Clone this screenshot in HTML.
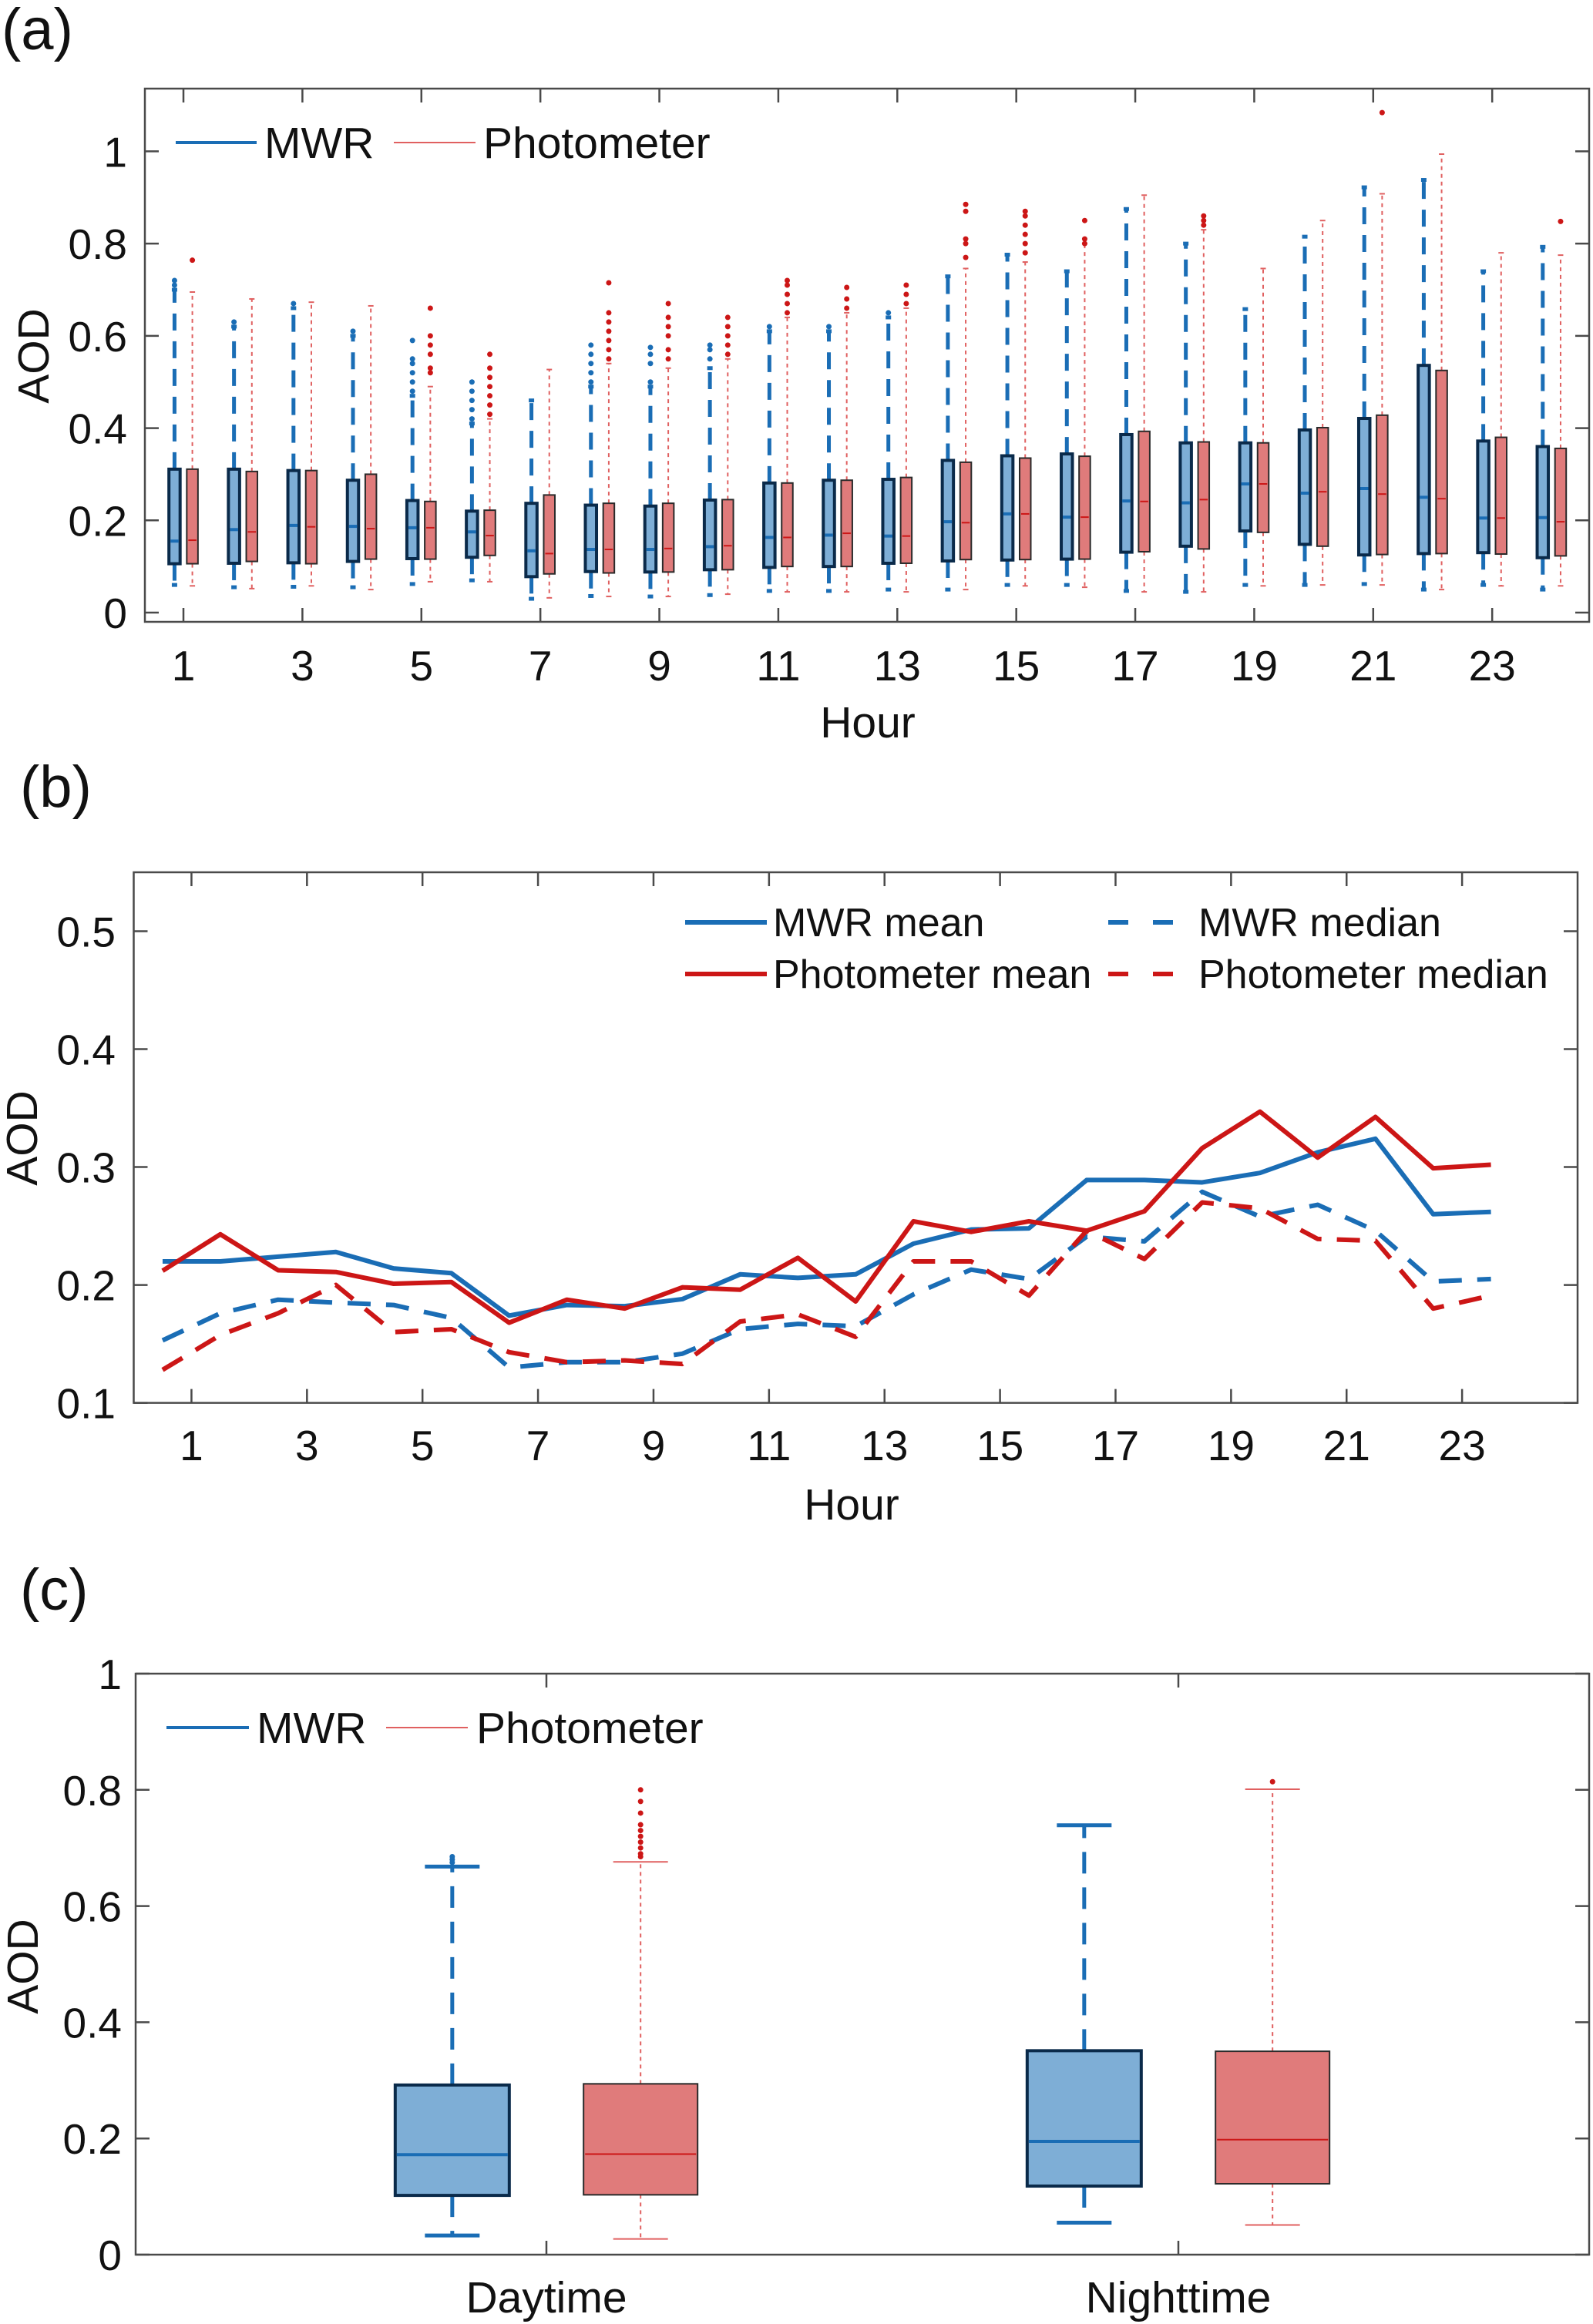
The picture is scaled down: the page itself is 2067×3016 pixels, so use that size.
<!DOCTYPE html>
<html><head><meta charset="utf-8"><style>
html,body{margin:0;padding:0;background:#fff}
svg{display:block}
text{font-family:"Liberation Sans",Arial,sans-serif;fill:#111}
</style></head><body>
<svg id="fig" width="2067" height="3016" viewBox="0 0 2067 3016" xmlns="http://www.w3.org/2000/svg"></svg>
<script>
// ---------- Panel (a) data ----------
const hoursA = [1,2,3,4,5,6,7,8,9,10,11,12,13,14,15,16,17,18,19,20,21,22,23,24];
const mwrQ1 = [.106,.107,.108,.111,.117,.12,.078,.089,.088,.093,.098,.1,.107,.112,.114,.116,.131,.144,.177,.148,.125,.128,.13,.119];
const mwrMed = [.155,.18,.189,.187,.184,.175,.134,.137,.137,.143,.163,.168,.166,.197,.214,.207,.242,.238,.279,.259,.269,.25,.205,.206];
const mwrQ3 = [.311,.311,.308,.287,.243,.22,.237,.233,.231,.244,.281,.287,.289,.33,.34,.344,.386,.368,.368,.396,.421,.536,.372,.36];
const mwrLo = [.06,.055,.056,.055,.062,.07,.03,.036,.035,.038,.047,.047,.05,.05,.06,.06,.047,.045,.06,.06,.062,.05,.06,.05];
const mwrHi = [.70,.62,.66,.60,.47,.41,.46,.49,.49,.53,.61,.61,.64,.729,.776,.74,.875,.80,.658,.815,.922,.938,.74,.793];
const mwrOut = [[.71,.72],[.63],[.67],[.61],[.48,.5,.52,.54,.55,.59],[.42,.44,.46,.48,.5],[],[.5,.52,.54,.56,.58],[.5,.54,.56,.575],[.55,.57,.58],[.62],[.62],[.65],[],[],[],[],[],[],[],[],[],[],[]];
const phoQ1 = [.106,.111,.106,.116,.116,.124,.084,.086,.088,.093,.1,.1,.107,.115,.115,.116,.132,.138,.174,.144,.126,.128,.127,.123];
const phoMed = [.157,.175,.186,.182,.184,.167,.128,.137,.139,.145,.163,.172,.166,.195,.214,.207,.241,.245,.279,.262,.257,.247,.205,.197];
const phoQ3 = [.311,.306,.308,.300,.241,.222,.255,.237,.237,.245,.281,.287,.293,.326,.335,.339,.393,.37,.368,.401,.428,.525,.38,.356];
const phoLo = [.058,.052,.058,.05,.067,.067,.032,.035,.035,.04,.045,.045,.045,.05,.058,.055,.045,.045,.058,.06,.06,.05,.058,.058];
const phoHi = [.695,.68,.673,.665,.49,.42,.527,.54,.53,.55,.64,.65,.66,.746,.76,.80,.905,.83,.746,.85,.908,.994,.78,.775];
const phoOut = [[.764],[],[],[],[.52,.53,.56,.58,.6,.66],[.43,.45,.47,.49,.51,.53,.56],[],[.55,.57,.59,.61,.63,.65,.715],[.55,.57,.6,.62,.64,.67],[.56,.58,.6,.62,.64],[.65,.67,.69,.71,.72],[.66,.68,.705],[.67,.69,.71],[.77,.8,.81,.87,.885],[.78,.8,.82,.84,.86,.87],[.8,.81,.85],[],[.84,.85,.86],[],[],[1.084],[],[],[.848]];
const xTicksA = [1,3,5,7,9,11,13,15,17,19,21,23];
const yTicksA = [0,0.2,0.4,0.6,0.8,1];
const yTickLabelsA = ["0","0.2","0.4","0.6","0.8","1"];

// ---------- Panel (b) data ----------
const hoursB = [0.5,1.5,2.5,3.5,4.5,5.5,6.5,7.5,8.5,9.5,10.5,11.5,12.5,13.5,14.5,15.5,16.5,17.5,18.5,19.5,20.5,21.5,22.5,23.5];
const mwrMean = [.220,.220,.224,.228,.214,.210,.174,.183,.182,.188,.209,.206,.209,.235,.247,.248,.289,.289,.287,.295,.3125,.324,.260,.262];
const phoMean = [.212,.243,.2125,.211,.201,.2025,.168,.1875,.180,.198,.196,.223,.186,.254,.245,.254,.246,.2625,.316,.347,.308,.3425,.299,.302];
const mwrMedian = [.153,.176,.1875,.185,.183,.172,.130,.1345,.1345,.1417,.1625,.167,.165,.192,.213,.205,.241,.237,.279,.258,.268,.246,.203,.205];
const phoMedian = [.128,.1575,.176,.200,.160,.1625,.143,.1345,.136,.133,.169,.175,.156,.220,.220,.191,.246,.222,.270,.265,.239,.2375,.180,.191];
const xTicksB = [1,3,5,7,9,11,13,15,17,19,21,23];
const yTicksB = [0.1,0.2,0.3,0.4,0.5];
const yTickLabelsB = ["0.1","0.2","0.3","0.4","0.5"];

// ---------- Panel (c) data ----------
const catsC = ["Daytime","Nighttime"];
const cMwrQ1 = [.102,.118], cMwrMed = [.172,.195], cMwrQ3 = [.292,.351], cMwrLo = [.033,.055], cMwrHi = [.668,.739];
const cPhoQ1 = [.103,.122], cPhoMed = [.173,.198], cPhoQ3 = [.294,.350], cPhoLo = [.027,.051], cPhoHi = [.676,.801];
const cMwrOut = [[.675,.68,.685],[]];
const cPhoOut = [[.685,.69,.70,.71,.72,.73,.74,.76,.78,.80],[.814]];
const yTicksC = [0,0.2,0.4,0.6,0.8,1];
const yTickLabelsC = ["0","0.2","0.4","0.6","0.8","1"];

const NS = "http://www.w3.org/2000/svg";
const svg = document.getElementById("fig");
const BLUE = "#1a6db5", RED = "#cc1616", LRED = "#e06060";
const BFILL = "#7eaed6", RFILL = "#e07b7b", AX = "#4a4a4a";
function mk(tag, attrs, parent) {
  const e = document.createElementNS(NS, tag);
  for (const k in attrs) e.setAttribute(k, attrs[k]);
  (parent || svg).appendChild(e);
  return e;
}
function lin(d0, d1, r0, r1) { return v => r0 + (v - d0) * (r1 - r0) / (d1 - d0); }
function txt(str, x, y, size, anchor, parent, name) {
  const t = mk("text", {x: x, y: y, "font-size": size, "text-anchor": anchor}, parent);
  t.textContent = str;
  
  
  return t;
}
function axesFrame(g, L, T, R, B, name) {
  const r = mk("rect", {x: L, y: T, width: R - L, height: B - T, fill: "none", stroke: AX, "stroke-width": 2.5}, g);
  
  
}
function tick(g, x1, y1, x2, y2) { mk("line", {x1: x1, y1: y1, x2: x2, y2: y2, stroke: AX, "stroke-width": 2.5}, g); }

function boxGlyph(g, cx, w, y, q1, med, q3, lo, hi, outs, isM, capW, name, dash) {
  const bg = mk("g", {}, g);
  
  
  const col = isM ? BLUE : LRED;
  const sw = isM ? 5 : 2;
  mk("line", {x1: cx, y1: y(q3), x2: cx, y2: y(hi), stroke: col, "stroke-width": sw, "stroke-dasharray": dash}, bg);
  mk("line", {x1: cx, y1: y(q1), x2: cx, y2: y(lo), stroke: col, "stroke-width": sw, "stroke-dasharray": dash}, bg);
  mk("line", {x1: cx - capW / 2, y1: y(hi), x2: cx + capW / 2, y2: y(hi), stroke: col, "stroke-width": isM ? 5 : 2}, bg);
  mk("line", {x1: cx - capW / 2, y1: y(lo), x2: cx + capW / 2, y2: y(lo), stroke: col, "stroke-width": isM ? 5 : 2}, bg);
  mk("rect", {x: cx - w / 2, y: y(q3), width: w, height: y(q1) - y(q3), fill: isM ? BFILL : RFILL,
    stroke: isM ? "#0a2a4a" : "#2a2a2a", "stroke-width": isM ? 4 : 2}, bg);
  mk("line", {x1: cx - w / 2 + 2, y1: y(med), x2: cx + w / 2 - 2, y2: y(med), stroke: isM ? BLUE : RED, "stroke-width": isM ? 4 : 2}, bg);
  outs.forEach(o => mk("circle", {cx: cx, cy: y(o), r: 3.5, fill: isM ? BLUE : RED}, bg));
}

// ================= Panel (a) =================
(function () {
  const g = mk("g", {});  
  const L = 188, R = 2062, T = 115, B = 807;
  const x = lin(0.352, 24.63, L, R), y = lin(-0.02, 1.136, B, T);
  txt("(a)", 2, 64, 76, "start", g, "panel-a-label");
  axesFrame(g, L, T, R, B, "panel-a-axes");
  xTicksA.forEach(h => { tick(g, x(h), B, x(h), B - 18); tick(g, x(h), T, x(h), T + 18);
    txt(String(h), x(h), 883, 55, "middle", g, "x-tick-label-a"); });
  yTicksA.forEach((v, i) => { tick(g, L, y(v), L + 18, y(v)); tick(g, R, y(v), R - 18, y(v));
    txt(yTickLabelsA[i], 165, y(v) + 20, 55, "end", g, "y-tick-label-a"); });
  hoursA.forEach((h, i) => {
    boxGlyph(g, x(h - 0.15), 14.5, y, mwrQ1[i], mwrMed[i], mwrQ3[i], mwrLo[i], mwrHi[i], mwrOut[i], true, 7, "mwr-box-hour-" + h, "22 14");
    boxGlyph(g, x(h + 0.15), 14.5, y, phoQ1[i], phoMed[i], phoQ3[i], phoLo[i], phoHi[i], phoOut[i], false, 7, "photometer-box-hour-" + h, "5 5");
  });
  txt("Hour", 1126, 957, 57, "middle", g, "x-axis-title-a");
  const t = txt("AOD", 0, 0, 57, "middle", g, "y-axis-title-a");
  t.setAttribute("transform", "translate(63,462) rotate(-90)");
  const lg = mk("g", {}, g);  
  mk("line", {x1: 228, y1: 185, x2: 333, y2: 185, stroke: BLUE, "stroke-width": 4}, lg);
  txt("MWR", 343, 205, 57, "start", lg, "legend-entry-mwr");
  mk("line", {x1: 511, y1: 185, x2: 617, y2: 185, stroke: LRED, "stroke-width": 2}, lg);
  txt("Photometer", 627, 205, 57, "start", lg, "legend-entry-photometer");
})();

// ================= Panel (b) =================
(function () {
  const g = mk("g", {});  
  const L = 173.5, R = 2047, T = 1132, B = 1820.6;
  const x = lin(0, 25, L, R), y = lin(0.1, 0.55, B, T);
  txt("(b)", 26, 1047, 76, "start", g, "panel-b-label");
  axesFrame(g, L, T, R, B, "panel-b-axes");
  xTicksB.forEach(h => { tick(g, x(h), B, x(h), B - 18); tick(g, x(h), T, x(h), T + 18);
    txt(String(h), x(h), 1895, 55, "middle", g, "x-tick-label-b"); });
  yTicksB.forEach((v, i) => { tick(g, L, y(v), L + 18, y(v)); tick(g, R, y(v), R - 18, y(v));
    txt(yTickLabelsB[i], 150, y(v) + 20, 55, "end", g, "y-tick-label-b"); });
  function series(vals, col, dash, name) {
    const p = mk("polyline", {points: hoursB.map((h, i) => x(h) + "," + y(vals[i])).join(" "),
      fill: "none", stroke: col, "stroke-width": 6, "stroke-dasharray": dash, "stroke-linejoin": "round"}, g);
    
    
  }
  series(mwrMedian, BLUE, "30 20", "mwr-median-line");
  series(phoMedian, RED, "30 20", "photometer-median-line");
  series(mwrMean, BLUE, "none", "mwr-mean-line");
  series(phoMean, RED, "none", "photometer-mean-line");
  txt("Hour", 1105, 1972, 57, "middle", g, "x-axis-title-b");
  const t = txt("AOD", 0, 0, 57, "middle", g, "y-axis-title-b");
  t.setAttribute("transform", "translate(48,1477) rotate(-90)");
  const lg = mk("g", {}, g);  
  mk("line", {x1: 889, y1: 1197, x2: 995, y2: 1197, stroke: BLUE, "stroke-width": 6}, lg);
  txt("MWR mean", 1003, 1215, 52, "start", lg, "legend-entry-mwr-mean");
  mk("line", {x1: 889, y1: 1264, x2: 995, y2: 1264, stroke: RED, "stroke-width": 6}, lg);
  txt("Photometer mean", 1003, 1282, 52, "start", lg, "legend-entry-photometer-mean");
  mk("line", {x1: 1438, y1: 1197, x2: 1522, y2: 1197, stroke: BLUE, "stroke-width": 6, "stroke-dasharray": "26 32"}, lg);
  txt("MWR median", 1555, 1215, 52, "start", lg, "legend-entry-mwr-median");
  mk("line", {x1: 1438, y1: 1264, x2: 1522, y2: 1264, stroke: RED, "stroke-width": 6, "stroke-dasharray": "26 32"}, lg);
  txt("Photometer median", 1555, 1282, 52, "start", lg, "legend-entry-photometer-median");
})();

// ================= Panel (c) =================
(function () {
  const g = mk("g", {});  
  const L = 176, R = 2062, T = 2172, B = 2926;
  const x = lin(0.35, 2.65, L, R), y = lin(0, 1, B, T);
  txt("(c)", 26, 2089, 76, "start", g, "panel-c-label");
  axesFrame(g, L, T, R, B, "panel-c-axes");
  catsC.forEach((c, i) => { tick(g, x(i + 1), B, x(i + 1), B - 18); tick(g, x(i + 1), T, x(i + 1), T + 18);
    txt(c, x(i + 1), 3001, 57, "middle", g, "x-category-label"); });
  yTicksC.forEach((v, i) => { tick(g, L, y(v), L + 18, y(v)); tick(g, R, y(v), R - 18, y(v));
    txt(yTickLabelsC[i], 158, y(v) + 20, 55, "end", g, "y-tick-label-c"); });
  catsC.forEach((c, i) => {
    boxGlyph(g, x(i + 1 - 0.149), 148, y, cMwrQ1[i], cMwrMed[i], cMwrQ3[i], cMwrLo[i], cMwrHi[i], cMwrOut[i], true, 71, "mwr-box-" + c.toLowerCase(), "28 18");
    boxGlyph(g, x(i + 1 + 0.149), 148, y, cPhoQ1[i], cPhoMed[i], cPhoQ3[i], cPhoLo[i], cPhoHi[i], cPhoOut[i], false, 71, "photometer-box-" + c.toLowerCase(), "5 5");
  });
  const t = txt("AOD", 0, 0, 57, "middle", g, "y-axis-title-c");
  t.setAttribute("transform", "translate(49,2552) rotate(-90)");
  const lg = mk("g", {}, g);  
  mk("line", {x1: 216, y1: 2242, x2: 323, y2: 2242, stroke: BLUE, "stroke-width": 4}, lg);
  txt("MWR", 333, 2262, 57, "start", lg, "legend-entry-mwr");
  mk("line", {x1: 501, y1: 2242, x2: 607, y2: 2242, stroke: LRED, "stroke-width": 2}, lg);
  txt("Photometer", 618, 2262, 57, "start", lg, "legend-entry-photometer");
})();
</script>
</body></html>
